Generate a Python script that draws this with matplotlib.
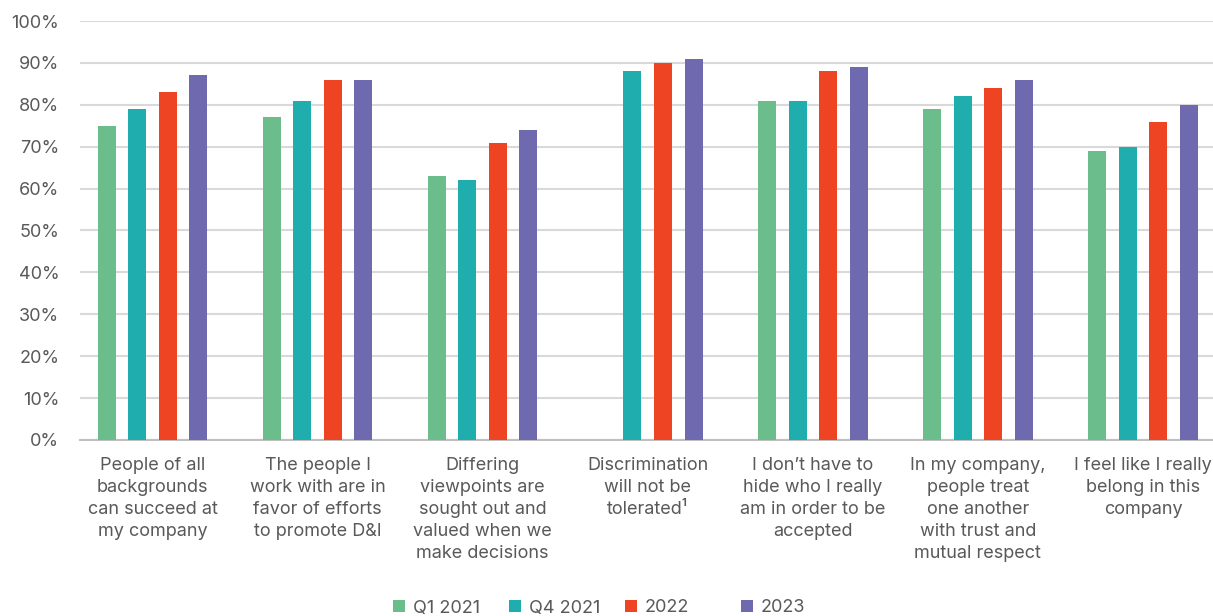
import numpy as np
import matplotlib
matplotlib.use("Agg")
import matplotlib.pyplot as plt

plt.rcParams['font.family'] = ['Inter', 'DejaVu Sans']

# Données (%)
categories = [
    "People of all\nbackgrounds\ncan succeed at\nmy company",
    "The people I\nwork with are in\nfavor of efforts\nto promote D&I",
    "Differing\nviewpoints are\nsought out and\nvalued when we\nmake decisions",
    "Discrimination\nwill not be\ntolerated\u00b9",
    "I don\u2019t have to\nhide who I really\nam in order to be\naccepted",
    "In my company,\npeople treat\none another\nwith trust and\nmutual respect",
    "I feel like I really\nbelong in this\ncompany",
]
series_names = ["Q1 2021", "Q4 2021", "2022", "2023"]
q1_2021 = [75, 77, 63, np.nan, 81, 79, 69]
q4_2021 = [79, 81, 62, 88, 81, 82, 70]
an_2022 = [83, 86, 71, 90, 88, 84, 76]
an_2023 = [87, 86, 74, 91, 89, 86, 80]
couleurs = ["#6BBE8C", "#20ADAD", "#EF4423", "#6F69B0"]

series = [q1_2021, q4_2021, an_2022, an_2023]
texte = "#595959"
taille = 13

fig = plt.figure(figsize=(12.13, 6.16), dpi=100)
ax = fig.add_axes([80 / 1213, 1 - 440 / 616, 1133 / 1213, 419 / 616])

x = np.arange(len(categories))
largeur = 0.109
ecart = 0.185
barres = []
for k, (vals, c, nom) in enumerate(zip(series, couleurs, series_names)):
    b = ax.bar(x + (k - 1.5) * ecart, vals, width=largeur, color=c, label=nom, zorder=3)
    barres.append(b)

ax.set_xlim(-0.439, 6.424)
ax.set_ylim(0, 100)
ax.set_yticks(np.arange(0, 101, 10))
ax.set_yticklabels([f"{v}%" for v in range(0, 101, 10)], fontsize=taille, color=texte)
ax.yaxis.grid(True, color="#d9d9d9", linewidth=1.5, zorder=0)
ax.tick_params(axis='y', length=0, pad=15)
ax.tick_params(axis='x', length=0, pad=12)
ax.set_xticks(x)
ax.set_xticklabels(categories, fontsize=taille, color=texte, linespacing=1.39, va='top')

for cote in ['top', 'right', 'left']:
    ax.spines[cote].set_visible(False)
ax.spines['bottom'].set_color("#bfbfbf")
ax.spines['bottom'].set_linewidth(1.5)

# Légende : une entrée par colonne, espacement régulier
for k, (b, nom) in enumerate(zip(barres, series_names)):
    leg = fig.legend([b], [nom], loc='center left',
                     bbox_to_anchor=((393 + 116 * k) / 1213, 1 - 608 / 616),
                     frameon=False, fontsize=taille, handlelength=0.66, handleheight=0.66,
                     handletextpad=0.45, borderpad=0, borderaxespad=0)
    for t in leg.get_texts():
        t.set_color(texte)

fig.savefig("out.png", dpi=100)
